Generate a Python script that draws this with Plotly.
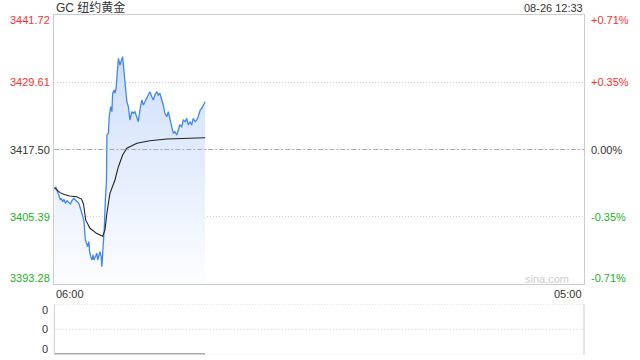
import plotly.graph_objects as go

# ---- data (minutes after 06:00, prices) ----
title_text = "GC 纽约黄金"
stamp_text = "08-26 12:33"
prev_close = 3417.50
price_ticks = [3441.72, 3429.61, 3417.50, 3405.39, 3393.28]
time_labels = ["06:00", "05:00"]
session_minutes = 1380

price_min = [0, 4, 10, 13, 16, 18, 22, 25, 29, 33, 38, 42, 46, 51, 55, 59, 64, 68, 72, 77, 79, 81,
             84, 87, 90, 92, 95, 98, 101, 103, 107, 111, 113, 116, 119, 122, 124, 127, 130, 133,
             136, 137, 141, 143, 147, 150, 152, 156, 158, 161, 164, 167, 171, 176, 178, 182, 185,
             189, 193, 197, 202, 206, 210, 215, 219, 223, 228, 232, 236, 241, 245, 249, 254, 258,
             262, 267, 271, 275, 280, 284, 288, 293, 297, 301, 306, 310, 314, 319, 323, 327, 332,
             336, 341, 345, 349, 354, 358, 362, 367, 371, 375, 380, 384, 388, 393]
price = [3410.53, 3410.71, 3409.63, 3409.02, 3408.43, 3408.73, 3408.12, 3408.55, 3407.83, 3408.30,
         3407.94, 3407.71, 3408.30, 3408.73, 3408.43, 3408.12, 3407.83, 3406.94, 3406.04, 3404.83,
         3403.04, 3401.24, 3400.65, 3400.04, 3400.94, 3399.14, 3398.24, 3397.65, 3398.55, 3397.65,
         3398.24, 3398.85, 3397.65, 3398.55, 3399.14, 3398.24, 3396.44, 3400.04, 3403.04, 3408.43,
         3412.02, 3420.11, 3420.41, 3423.39, 3425.19, 3424.29, 3427.60, 3428.19, 3427.60, 3428.50,
         3431.78, 3433.89, 3432.68, 3433.89, 3434.17, 3431.19, 3428.78, 3426.09, 3425.19, 3422.80,
         3424.29, 3424.00, 3424.29, 3423.11, 3422.50, 3424.60, 3426.39, 3425.50, 3426.09, 3426.99,
         3427.60, 3427.89, 3426.99, 3426.39, 3427.29, 3427.89, 3427.29, 3427.60, 3426.39, 3425.50,
         3424.00, 3423.39, 3424.29, 3422.80, 3421.60, 3420.41, 3420.70, 3420.11, 3421.00, 3421.90,
         3421.60, 3422.80, 3422.50, 3423.11, 3421.90, 3422.50, 3421.90, 3423.11, 3422.50, 3422.80,
         3423.39, 3424.60, 3424.90, 3425.50, 3426.09]

avg_min = [0, 15, 26, 40, 58, 71, 76, 82, 93, 110, 126, 132, 137, 145, 158, 167, 178, 189, 215,
           249, 293, 345, 393]
avg = [3410.64, 3409.75, 3409.40, 3409.15, 3409.02, 3408.60, 3407.70, 3404.80, 3403.34, 3402.44,
       3401.90, 3403.04, 3406.04, 3409.63, 3412.02, 3414.41, 3416.51, 3417.72, 3418.61, 3419.08,
       3419.39, 3419.51, 3419.62]

volume = [0 for _ in price_min]
vol_ticks = [1, 0.5, 0]
vol_labels = ["0", "0", "0"]

RED = "#ff3030"
GREEN = "#22b022"
DARK = "#333333"
FONT = "Liberation Sans, Arial, Noto Sans CJK SC, sans-serif"

fig = go.Figure()

fig.add_trace(go.Scatter(
    x=price_min, y=price, mode="lines",
    line=dict(color="#4186ee", width=1.3),
    fill="tozeroy",
    fillgradient=dict(type="vertical",
                      colorscale=[[0, "rgba(252,253,255,1)"], [1, "rgba(204,221,249,1)"]],
                      start=price_ticks[-1], stop=3436),
    hoverinfo="skip", xaxis="x", yaxis="y"))

fig.add_trace(go.Scatter(
    x=avg_min, y=avg, mode="lines",
    line=dict(color="#222222", width=1.1),
    hoverinfo="skip", xaxis="x", yaxis="y"))

fig.add_trace(go.Scatter(
    x=price_min, y=volume, mode="lines",
    line=dict(color="#555555", width=1.5),
    hoverinfo="skip", xaxis="x2", yaxis="y2"))

x_dom = [54.3 / 640, 584 / 640]
main_dom = [1 - 284.3 / 360, 1 - 14.7 / 360]
vol_dom = [1 - 354.3 / 360, 1 - 304.3 / 360]

fig.update_layout(
    width=640, height=360,
    margin=dict(l=0, r=0, t=0, b=0),
    paper_bgcolor="white", plot_bgcolor="white",
    showlegend=False,
    font=dict(family=FONT, size=11, color=DARK),
    xaxis=dict(domain=x_dom, range=[0, session_minutes], showgrid=False, zeroline=False,
               showticklabels=False, showline=True, mirror=True, linecolor="#cccccc",
               linewidth=1, fixedrange=True, anchor="y"),
    yaxis=dict(domain=main_dom, range=[price_ticks[-1], price_ticks[0]],
               tickvals=[price_ticks[1], price_ticks[3]], showticklabels=False,
               showgrid=True, gridcolor="#cfcfcf", griddash="1px,2px", gridwidth=1,
               zeroline=False, showline=True, mirror=True, linecolor="#cccccc",
               linewidth=1, fixedrange=True, anchor="x"),
    xaxis2=dict(domain=x_dom, range=[0, session_minutes], showgrid=False, zeroline=False,
                showticklabels=False, showline=False, fixedrange=True, anchor="y2"),
    yaxis2=dict(domain=vol_dom, range=[0, 1], showgrid=False, zeroline=False,
                showticklabels=False, showline=False, fixedrange=True, anchor="x2"),
)

shapes = []
# previous close line
shapes.append(dict(type="line", xref="x domain", yref="y", x0=0, x1=1, y0=prev_close, y1=prev_close,
                   line=dict(color="#aaaaaa", width=1, dash="5px,2px,2px,2px")))
# volume panel frame
shapes.append(dict(type="line", xref="x2 domain", yref="y2 domain", x0=0, x1=0, y0=0, y1=1,
                   line=dict(color="#cccccc", width=1)))
shapes.append(dict(type="line", xref="x2 domain", yref="y2 domain", x0=1, x1=1, y0=0, y1=1,
                   line=dict(color="#cccccc", width=1)))
for yv in vol_ticks:
    shapes.append(dict(type="line", xref="x2 domain", yref="y2", x0=0, x1=1, y0=yv, y1=yv,
                       line=dict(color="#c8c8c8", width=1, dash="1px,2px")))
fig.update_layout(shapes=shapes)

ann = []
n = len(price_ticks)
for i, p in enumerate(price_ticks):
    pct = (p - prev_close) / prev_close * 100
    if abs(pct) < 1e-9:
        col = DARK
        pct_txt = "0.00%"
    elif pct > 0:
        col = RED
        pct_txt = "+%.2f%%" % pct
    else:
        col = GREEN
        pct_txt = "%.2f%%" % pct
    shift = -5.5 if i == 0 else (6 if i == n - 1 else 0)
    ann.append(dict(text="%.2f" % p, x=51.5 / 640, xref="paper", xanchor="right",
                    y=p, yref="y", yanchor="middle", yshift=shift, showarrow=False,
                    font=dict(color=col, size=11)))
    ann.append(dict(text=pct_txt, x=589 / 640, xref="paper", xanchor="left",
                    y=p, yref="y", yanchor="middle", yshift=shift, showarrow=False,
                    font=dict(color=col, size=11)))

vol_shift = [-6, 0, 5]
for yv, lab, sh in zip(vol_ticks, vol_labels, vol_shift):
    ann.append(dict(text=lab, x=50 / 640, xref="paper", xanchor="right", y=yv, yref="y2",
                    yanchor="middle", yshift=sh, showarrow=False, font=dict(color=DARK, size=11)))

ann.append(dict(text=time_labels[0], x=0, xref="x", xanchor="left", xshift=0,
                y=1 - 293.5 / 360, yref="paper", yanchor="middle", showarrow=False,
                font=dict(color=DARK, size=11)))
ann.append(dict(text=time_labels[1], x=session_minutes, xref="x", xanchor="right",
                y=1 - 293.5 / 360, yref="paper", yanchor="middle", showarrow=False,
                font=dict(color=DARK, size=11)))
ann.append(dict(text=title_text, x=54 / 640, xref="paper", xanchor="left",
                y=1 - 7.5 / 360, yref="paper", yanchor="middle", showarrow=False,
                font=dict(color=DARK, size=12)))
ann.append(dict(text=stamp_text, x=584.5 / 640, xref="paper", xanchor="right",
                y=1 - 7.5 / 360, yref="paper", yanchor="middle", showarrow=False,
                font=dict(color=DARK, size=11)))
ann.append(dict(text="sina.com", x=547 / 640, xref="paper", xanchor="center",
                y=1 - 279 / 360, yref="paper", yanchor="middle", showarrow=False,
                font=dict(color="#cccccc", size=11)))
fig.update_layout(annotations=ann)

fig.write_html("out.html")
